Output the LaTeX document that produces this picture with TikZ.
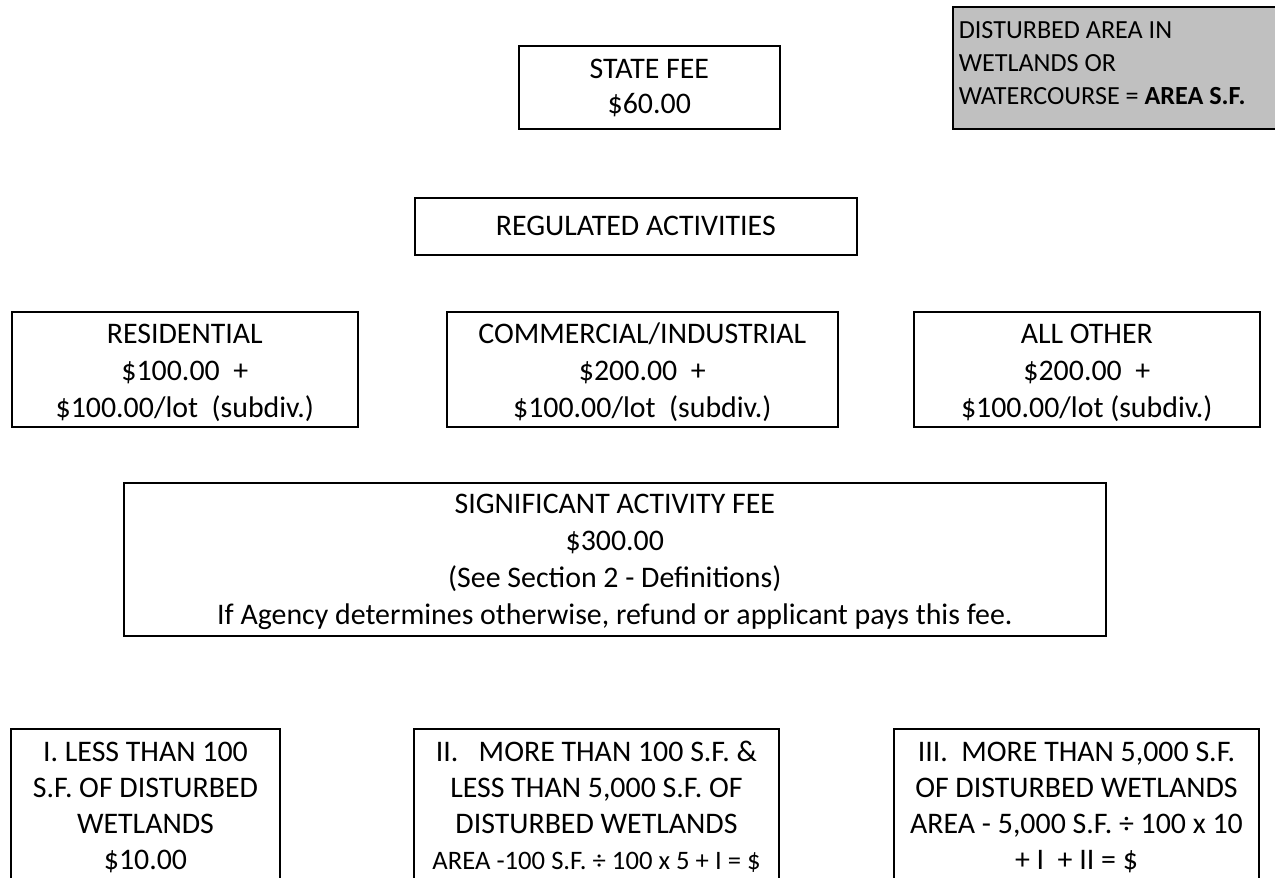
\documentclass[tikz,border=0pt]{standalone}
\usepackage{fontspec}
\setmainfont{Carlito}
\definecolor{areagray}{RGB}{192,192,192}
\tikzset{
  feebox/.style={draw, line width=1.2pt, align=center, inner sep=0pt,
    anchor=north west, font=\fontsize{22.4pt}{27.75pt}\selectfont},
  tierbox/.style={feebox, anchor=north, text height=105.75pt, text depth=30pt,
    font=\fontsize{22.4pt}{27pt}\selectfont},
}

\begin{document}
\begin{tikzpicture}[x=0.75pt,y=-0.75pt]
\useasboundingbox (0,0) rectangle (1275,878);

% Area note (top right, runs off the page)
\node[feebox, fill=areagray, align=flush left, text width=246pt,
  inner xsep=4.5pt, text height=23.7pt, text depth=67.8pt,
  font=\fontsize{19.6pt}{24.75pt}\selectfont] (area) at (952,6)
  {DISTURBED AREA IN\\WETLANDS OR\\WATERCOURSE = \textbf{AREA S.F.}};

% State fee
\node[feebox, minimum width=195.75pt, text height=50.7pt, text depth=11.55pt,
  font=\fontsize{22.4pt}{26.25pt}\selectfont] (state) at (518,45)
  {STATE FEE\\\$60.00};

% Regulated activities
\node[feebox, minimum width=331.5pt, text height=28.2pt, text depth=14.55pt] (regulated) at (414,197)
  {REGULATED ACTIVITIES};

% Activity classes
\node[feebox, minimum width=259.5pt, text height=79.5pt, text depth=6.75pt] (residential) at (11,311)
  {RESIDENTIAL\\\$100.00\ \ +\\\$100.00/lot\ \ (subdiv.)};
\node[feebox, minimum width=293.25pt, text height=79.5pt, text depth=6.75pt] (commercial) at (446,311)
  {COMMERCIAL/INDUSTRIAL\\\$200.00\ \ +\\\$100.00/lot\ \ (subdiv.)};
\node[feebox, minimum width=259.5pt, text height=79.5pt, text depth=6.75pt] (allother) at (913,311)
  {ALL OTHER\\\$200.00\ \ +\\\$100.00/lot (subdiv.)};

% Significant activity
\node[feebox, minimum width=736.5pt, text height=106.5pt, text depth=8.25pt] (significant) at (123,482)
  {SIGNIFICANT ACTIVITY FEE\\\$300.00\\(See Section 2 - Definitions)\\
   If Agency determines otherwise, refund or applicant pays this fee.};

% Wetland tiers (run off the bottom)
\node[tierbox, minimum width=201.75pt] (tierI) at (145.5,728)
  {I. LESS THAN 100\\S.F. OF DISTURBED\\WETLANDS\\\$10.00};
\node[tierbox, minimum width=273.75pt] (tierII) at (596.5,728)
  {II.\ \ \ MORE THAN 100 S.F. \&\\LESS THAN 5,000 S.F. OF\\DISTURBED WETLANDS\\
   {\fontsize{20pt}{27pt}\selectfont AREA -100 S.F. ÷ 100 x 5 + I = \$}};
\node[tierbox, minimum width=273.75pt] (tierIII) at (1076.5,728)
  {III.\ \ MORE THAN 5,000 S.F.\\OF DISTURBED WETLANDS\\AREA - 5,000 S.F. ÷ 100 x 10\\+ I\ \ + II = \$};

\end{tikzpicture}
\end{document}
